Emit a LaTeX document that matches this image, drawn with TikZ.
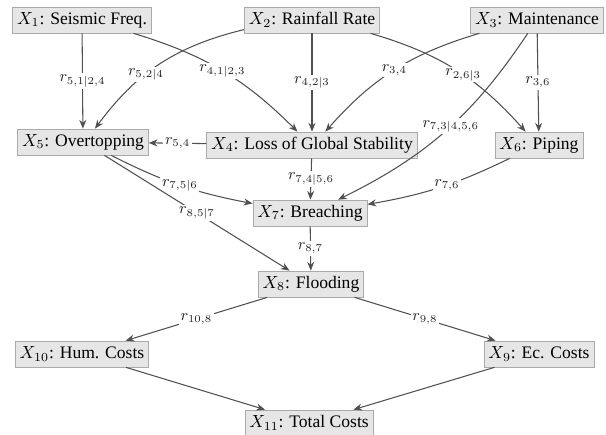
\documentclass[tikz,border=0pt]{standalone}
\usepackage{amsmath}
\usepackage{fontspec}
\setmainfont{Liberation Serif}
\usepackage{xcolor}
\usepackage{tikz}
\usetikzlibrary{arrows.meta}
\definecolor{boxfill}{HTML}{E6E6E6}
\definecolor{boxline}{HTML}{AAAAAA}
\definecolor{linkcol}{HTML}{505050}
\tikzset{var/.style={draw=boxline, fill=boxfill, rectangle, minimum height=0.52cm, inner sep=2.5pt, text=black}}
\tikzset{link/.style={draw=linkcol, semithick, -{Stealth[length=5pt,width=4pt]}}}
\tikzset{lbl/.style={fill=white, inner sep=1pt, text=black!85}}

\begin{document}
\begin{tikzpicture}[x=0.02cm, y=-0.02cm]
		\useasboundingbox (0,0) rectangle (606,435);
		\node[var] (X1) at (82,20) {$X_1$: Seismic Freq.};
		\node[var] (X2) at (312,20) {$X_2$: Rainfall Rate};
		\node[var] (X3) at (537,20) {$X_3$: Maintenance};
		\node[var] (X5) at (83,142) {$X_5$: Overtopping};
		\node[var] (X4) at (312,145) {$X_4$: Loss of Global Stability};
		\node[var] (X6) at (539,145) {$X_6$: Piping};
		\node[var] (X7) at (310,213) {$X_7$: Breaching};
		\node[var] (X8) at (311,284) {$X_8$: Flooding};
		\node[var] (X10) at (82,354) {$X_{10}$: Hum. Costs};
		\node[var] (X9) at (539,354) {$X_9$: Ec. Costs};
		\node[var] (X11) at (309,423) {$X_{11}$: Total Costs};
		
		\begin{scope}[font=\small]
			\draw[link] (X1) -- node[lbl] {$r_{5,1|2,4}$} (X5);
			\draw[link] (X2) to[bend right=20] node[lbl, pos=0.6] {$r_{5,2|4}$} (X5);
			\draw[link] (X1) to[bend left=14] node[lbl, pos=0.5] {$r_{4,1|2,3}$} (X4);
			\draw[link] (X2) -- node[lbl] {$r_{4,2|3}$} (X4);
			\draw[link] (X3) to[bend right=16] node[lbl, pos=0.5] {$r_{3,4}$} (X4);
			\draw[link] (X2) to[bend left=16] node[lbl, pos=0.55] {$r_{2,6|3}$} (X6);
			\draw[link] (X3) -- node[lbl] {$r_{3,6}$} (X6);
			\draw[link] (X3) to[bend left=15] node[lbl, pos=0.47] {$r_{7,3|4,5,6}$} (X7);
			\draw[link] (X4) -- node[lbl] {$r_{5,4}$} (X5);
			\draw[link] (X5) to[bend right=8] node[lbl] {$r_{7,5|6}$} (X7);
			\draw[link] (X4) -- node[lbl] {$r_{7,4|5,6}$} (X7);
			\draw[link] (X6) to[bend left=8] node[lbl, pos=0.45] {$r_{7,6}$} (X7);
			\draw[link] (X5) -- node[lbl] {$r_{8,5|7}$} (X8);
			\draw[link] (X7) -- node[lbl] {$r_{8,7}$} (X8);
			\draw[link] (X8) -- node[lbl] {$r_{10,8}$} (X10);
			\draw[link] (X8) -- node[lbl] {$r_{9,8}$} (X9);
			\draw[link] (X10) -- (X11);
			\draw[link] (X9) -- (X11);
		\end{scope}
	\end{tikzpicture}
\end{document}
